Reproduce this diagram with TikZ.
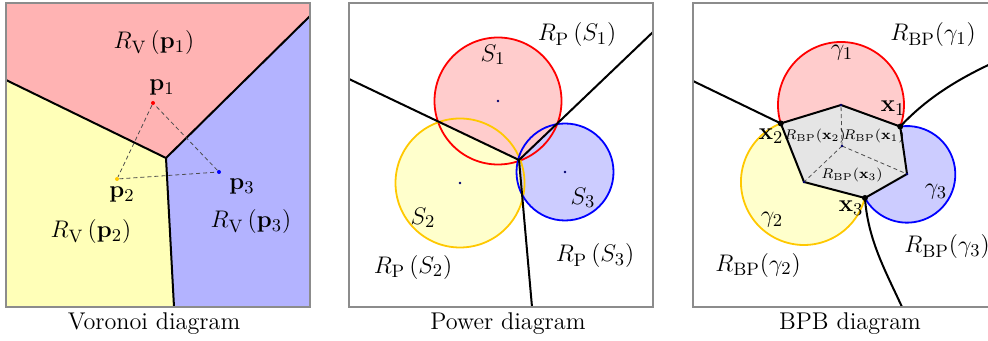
\documentclass[tikz,border=0pt]{standalone}
\usepackage{amsmath}
\usetikzlibrary{calc}
\definecolor{vred}{RGB}{255,179,179}
\definecolor{vyel}{RGB}{255,255,184}
\definecolor{vblue}{RGB}{179,179,255}
\definecolor{pred}{RGB}{255,204,204}
\definecolor{pyel}{RGB}{255,255,204}
\definecolor{pblue}{RGB}{204,204,255}
\definecolor{gold}{RGB}{255,200,0}
\definecolor{navy}{RGB}{0,0,110}
\definecolor{framegray}{RGB}{140,140,140}
\begin{document}
\begin{tikzpicture}[x=0.5pt,y=-0.5pt,
  framebox/.style={draw=framegray,line width=0.7pt},
  bnd/.style={draw=black,line width=1pt},
  tri/.style={draw=black!70,line width=0.4pt,dash pattern=on 2pt off 1.5pt},
  lbl/.style={inner sep=0pt,font=\fontsize{13.2}{16}\selectfont},
  captxt/.style={inner sep=0pt,font=\fontsize{12.1}{14}\selectfont},
  smalltxt/.style={inner sep=0pt,font=\fontsize{7.1}{9}\selectfont},
  circ/.style={line width=0.9pt},
  dotn/.style={circle,fill=navy,inner sep=0pt,minimum size=1.4pt},
  dotx/.style={circle,fill=black,inner sep=0pt,minimum size=3pt}]
\useasboundingbox (0,0) rectangle (988,341);
\clip (0,0) rectangle (988,341);

%%%%%%%%%%%%%%%% Voronoi
\coordinate (vTL) at (6,3);
\coordinate (vTR) at (310,3);
\coordinate (vBR) at (310,307);
\coordinate (vBL) at (6,307);
\coordinate (vA) at (6,80);
\coordinate (vJ) at (166,158);
\coordinate (vB) at (310,16);
\coordinate (vC) at (174,307);
\fill[vred] (vTL) -- (vA) -- (vJ) -- (vB) -- (vTR) -- cycle;
\fill[vyel] (vA) -- (vJ) -- (vC) -- (vBL) -- cycle;
\fill[vblue] (vB) -- (vJ) -- (vC) -- (vBR) -- cycle;
\draw[bnd] (vA) -- (vJ) -- (vB);
\draw[bnd] (vJ) -- (vC);
\node[circle,fill=red,inner sep=0pt,minimum size=2pt] (p1) at (153,103) {};
\node[circle,fill=gold,inner sep=0pt,minimum size=2pt] (p2) at (117,179) {};
\node[circle,fill=blue,inner sep=0pt,minimum size=2pt] (p3) at (219,172) {};
\draw[tri] (p1) -- (p2) -- (p3) -- (p1);
\draw[framebox] (vTL) rectangle (vBR);
\node[lbl] (lv1) at (154,43) {$R_{\mathrm{V}}\left(\mathbf{p}_1\right)$};
\node[lbl] (lp1) at (162,88) {$\mathbf{p}_1$};
\node[lbl] (lp2) at (122,195) {$\mathbf{p}_2$};
\node[lbl] (lp3) at (242,187) {$\mathbf{p}_3$};
\node[lbl] (lv3) at (251,222) {$R_{\mathrm{V}}\left(\mathbf{p}_3\right)$};
\node[lbl] (lv2) at (91,232) {$R_{\mathrm{V}}\left(\mathbf{p}_2\right)$};
\node[captxt] (cv) at (154,324) {Voronoi diagram};

%%%%%%%%%%%%%%%% Power
\coordinate (wTL) at (349,3);
\coordinate (wTR) at (653,3);
\coordinate (wBR) at (653,307);
\coordinate (wBL) at (349,307);
\coordinate (wA) at (349,79);
\coordinate (wJ) at (519,160);
\coordinate (wB) at (653,32);
\coordinate (wC) at (532,307);
\coordinate (s1) at (498,101);
\coordinate (s2) at (460,183);
\coordinate (s3) at (565,172);
\begin{scope}
  \clip (wTL) -- (wA) -- (wJ) -- (wB) -- (wTR) -- cycle;
  \fill[pred] (s1) circle[radius=63.5];
\end{scope}
\begin{scope}
  \clip (wA) -- (wJ) -- (wC) -- (wBL) -- cycle;
  \fill[pyel] (s2) circle[radius=64.5];
\end{scope}
\begin{scope}
  \clip (wB) -- (wJ) -- (wC) -- (wBR) -- cycle;
  \fill[pblue] (s3) circle[radius=48.5];
\end{scope}
\draw[circ,red] (s1) circle[radius=63.5];
\draw[circ,gold] (s2) circle[radius=64.5];
\draw[circ,blue] (s3) circle[radius=48.5];
\draw[bnd] (wA) -- (wJ) -- (wB);
\draw[bnd] (wJ) -- (wC);
\node[dotn] (ds1) at (s1) {};
\node[dotn] (ds2) at (s2) {};
\node[dotn] (ds3) at (s3) {};
\draw[framebox] (wTL) rectangle (wBR);
\node[lbl] (lw1) at (577,35) {$R_{\mathrm{P}}\left(S_1\right)$};
\node[lbl] (ls1) at (493,55) {$S_1$};
\node[lbl] (ls2) at (423,218) {$S_2$};
\node[lbl] (ls3) at (583,198) {$S_3$};
\node[lbl] (lw2) at (413,267) {$R_{\mathrm{P}}\left(S_2\right)$};
\node[lbl] (lw3) at (595,256) {$R_{\mathrm{P}}\left(S_3\right)$};
\node[captxt] (cw) at (508,324) {Power diagram};

%%%%%%%%%%%%%%%% BPB
\coordinate (bTL) at (693,3);
\coordinate (bBR) at (997,307);
\coordinate (c1) at (841,105);
\coordinate (c2) at (804,182);
\coordinate (c3) at (907,174);
\coordinate (q) at (842,146);
\coordinate (x1) at ($(c1)+(20:63)$);
\coordinate (x2) at ($(c1)+(163:63)$);
\coordinate (x3) at ($(c2)+(14.7:63)$);
\coordinate (bA) at (693,81);
\coordinate (bB) at (997,61);
\coordinate (bC) at (902,307);
\fill[pred] (x2) arc[start angle=163,end angle=380,radius=63] -- (c1) -- cycle;
\fill[pyel] (x2) arc[start angle=248.4,end angle=14.7,radius=63] -- (c2) -- cycle;
\fill[pblue] (x1) arc[start angle=261.9,end angle=510.3,radius=48.3] -- (c3) -- cycle;
\draw[circ,red] (x2) arc[start angle=163,end angle=380,radius=63];
\draw[circ,gold] (x2) arc[start angle=248.4,end angle=14.7,radius=63];
\draw[circ,blue] (x1) arc[start angle=261.9,end angle=510.3,radius=48.3];
\filldraw[fill=black!10,bnd] (x2) -- (c1) -- (x1) -- (c3) -- (x3) -- (c2) -- cycle;
\draw[tri] (q) -- (c1);
\draw[tri] (q) -- (c2);
\draw[tri] (q) -- (c3);
\draw[bnd] (bA) -- (x2);
\draw[bnd] (x1) .. controls (925,100) and (955,80) .. (bB);
\draw[bnd] (x3) .. controls (868,240) and (885,270) .. (bC);
\node[dotn] (dc1) at (c1) {};
\node[dotn] (dc2) at (c2) {};
\node[dotn] (dc3) at (c3) {};
\node[dotn] (dq) at (q) {};
\node[dotx] (dx1) at (x1) {};
\node[dotx] (dx2) at (x2) {};
\node[dotx] (dx3) at (x3) {};
\draw[framebox] (bTL) rectangle (bBR);
\node[lbl] (lb1) at (933,35) {$R_{\mathrm{BP}}(\gamma_1)$};
\node[lbl] (lg1) at (842,53) {$\gamma_1$};
\node[lbl] (lx1) at (893,108) {$\mathbf{x}_1$};
\node[lbl] (lx2) at (771,136) {$\mathbf{x}_2$};
\node[lbl] (lx3) at (851,208) {$\mathbf{x}_3$};
\node[lbl] (lg2) at (772,220) {$\gamma_2$};
\node[lbl] (lg3) at (936,192) {$\gamma_3$};
\node[lbl] (lb3) at (947,247) {$R_{\mathrm{BP}}(\gamma_3)$};
\node[lbl] (lb2) at (758,265) {$R_{\mathrm{BP}}(\gamma_2)$};
\node[smalltxt] (sx2) at (815,136) {$R_{\mathrm{BP}}(\mathbf{x}_2)$};
\node[smalltxt] (sx1) at (874,136) {$R_{\mathrm{BP}}(\mathbf{x}_1)$};
\node[smalltxt] (sx3) at (852,175) {$R_{\mathrm{BP}}(\mathbf{x}_3)$};
\node[captxt] (cb) at (850,324) {BPB diagram};
\end{tikzpicture}
\end{document}
